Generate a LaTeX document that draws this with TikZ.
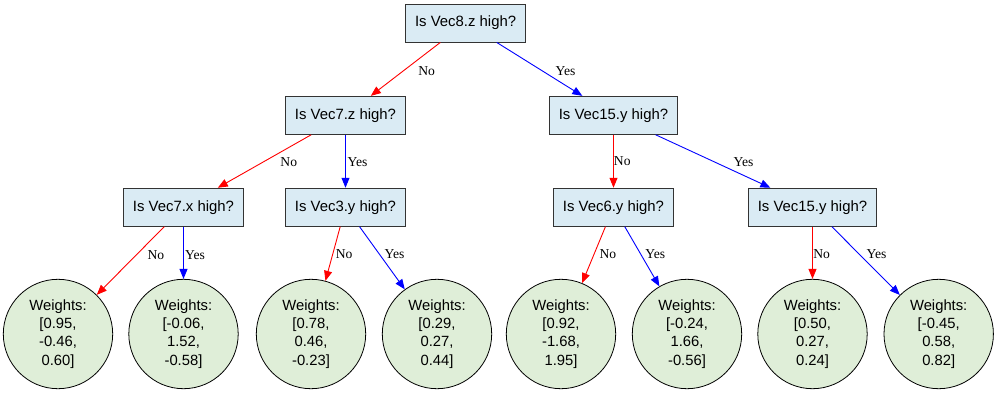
\documentclass[tikz,border=0pt]{standalone}
\usepackage{fontspec}
\setmainfont{Liberation Serif}
\setsansfont{Liberation Sans}
\usetikzlibrary{arrows.meta}
\definecolor{BoxBlue}{HTML}{DAEBF4}
\definecolor{LeafGreen}{HTML}{DFEED8}
\definecolor{Frame}{HTML}{333333}

\begin{document}
\begin{tikzpicture}[x=1pt,y=-1pt,
    q/.style={draw=Frame,line width=0.9pt,fill=BoxBlue,minimum width=120pt,minimum height=38pt,inner xsep=9pt,font=\sffamily\fontsize{14.9}{17}\selectfont},
    w/.style={circle,draw=black,line width=0.8pt,fill=LeafGreen,minimum size=109.4pt,inner sep=0pt,align=center,font=\sffamily\fontsize{14.8}{18.2}\selectfont,execute at begin node=\rule{0pt}{16.8pt}},
    no/.style={-{Triangle[length=10pt,width=8pt]},line width=0.9pt,draw=red},
    yes/.style={-{Triangle[length=10pt,width=8pt]},line width=0.9pt,draw=blue},
    lab/.style={font=\rmfamily\fontsize{13.6}{15}\selectfont,inner sep=0pt}]
    \useasboundingbox (0,0) rectangle (996,394);
    % questions
    \node[q] (v8z) at (465.6,23) {Is Vec8.z high?};
    \node[q] (v7z) at (345.5,115.3) {Is Vec7.z high?};
    \node[q] (v15y) at (613.5,115.3) {Is Vec15.y high?};
    \node[q] (v7x) at (183.5,207.2) {Is Vec7.x high?};
    \node[q] (v3y) at (345.5,207.2) {Is Vec3.y high?};
    \node[q] (v6y) at (613.5,207.2) {Is Vec6.y high?};
    \node[q] (v15yb) at (812.5,207.2) {Is Vec15.y high?};
    % leaves
    \node[w] (w1) at (58,334) {Weights:\\{[}0.95,\\-0.46,\\0.60{]}};
    \node[w] (w2) at (183.5,334) {Weights:\\{[}-0.06,\\1.52,\\-0.58{]}};
    \node[w] (w3) at (311,334) {Weights:\\{[}0.78,\\0.46,\\-0.23{]}};
    \node[w] (w4) at (437,334) {Weights:\\{[}0.29,\\0.27,\\0.44{]}};
    \node[w] (w5) at (561,334) {Weights:\\{[}0.92,\\-1.68,\\1.95{]}};
    \node[w] (w6) at (687,334) {Weights:\\{[}-0.24,\\1.66,\\-0.56{]}};
    \node[w] (w7) at (812.5,334) {Weights:\\{[}0.50,\\0.27,\\0.24{]}};
    \node[w] (w8) at (938.7,334) {Weights:\\{[}-0.45,\\0.58,\\0.82{]}};
    % branches
    \draw[no] (v8z) -- node[lab,xshift=21pt,yshift=-2pt]{No} (v7z);
    \draw[yes] (v8z) -- node[lab,xshift=26pt,yshift=-1.6pt]{Yes} (v15y);
    \draw[no] (v7z) -- node[lab,xshift=24.3pt,yshift=-0.6pt]{No} (v7x);
    \draw[yes] (v7z) -- node[lab,xshift=12pt,yshift=-0.6pt]{Yes} (v3y);
    \draw[no] (v15y) -- node[lab,xshift=8.8pt,yshift=-0.3pt]{No} (v6y);
    \draw[yes] (v15y) -- node[lab,xshift=30.6pt,yshift=-0.6pt]{Yes} (v15yb);
    \draw[no] (v7x) -- node[lab,xshift=25.3pt,yshift=5.5pt]{No} (w1);
    \draw[yes] (v7x) -- node[lab,xshift=11.5pt,yshift=-2.4pt]{Yes} (w2);
    \draw[no] (v3y) -- node[lab,xshift=11.3pt,yshift=-0.7pt]{No} (w3);
    \draw[yes] (v3y) -- node[lab,xshift=12.4pt,yshift=3.5pt]{Yes} (w4);
    \draw[no] (v6y) -- node[lab,xshift=14.1pt,yshift=0.7pt]{No} (w5);
    \draw[yes] (v6y) -- node[lab,xshift=13.2pt,yshift=2.3pt]{Yes} (w6);
    \draw[no] (v15yb) -- node[lab,xshift=9.2pt,yshift=-1.7pt]{No} (w7);
    \draw[yes] (v15yb) -- node[lab,xshift=10.7pt,yshift=6.3pt]{Yes} (w8);
\end{tikzpicture}
\end{document}
